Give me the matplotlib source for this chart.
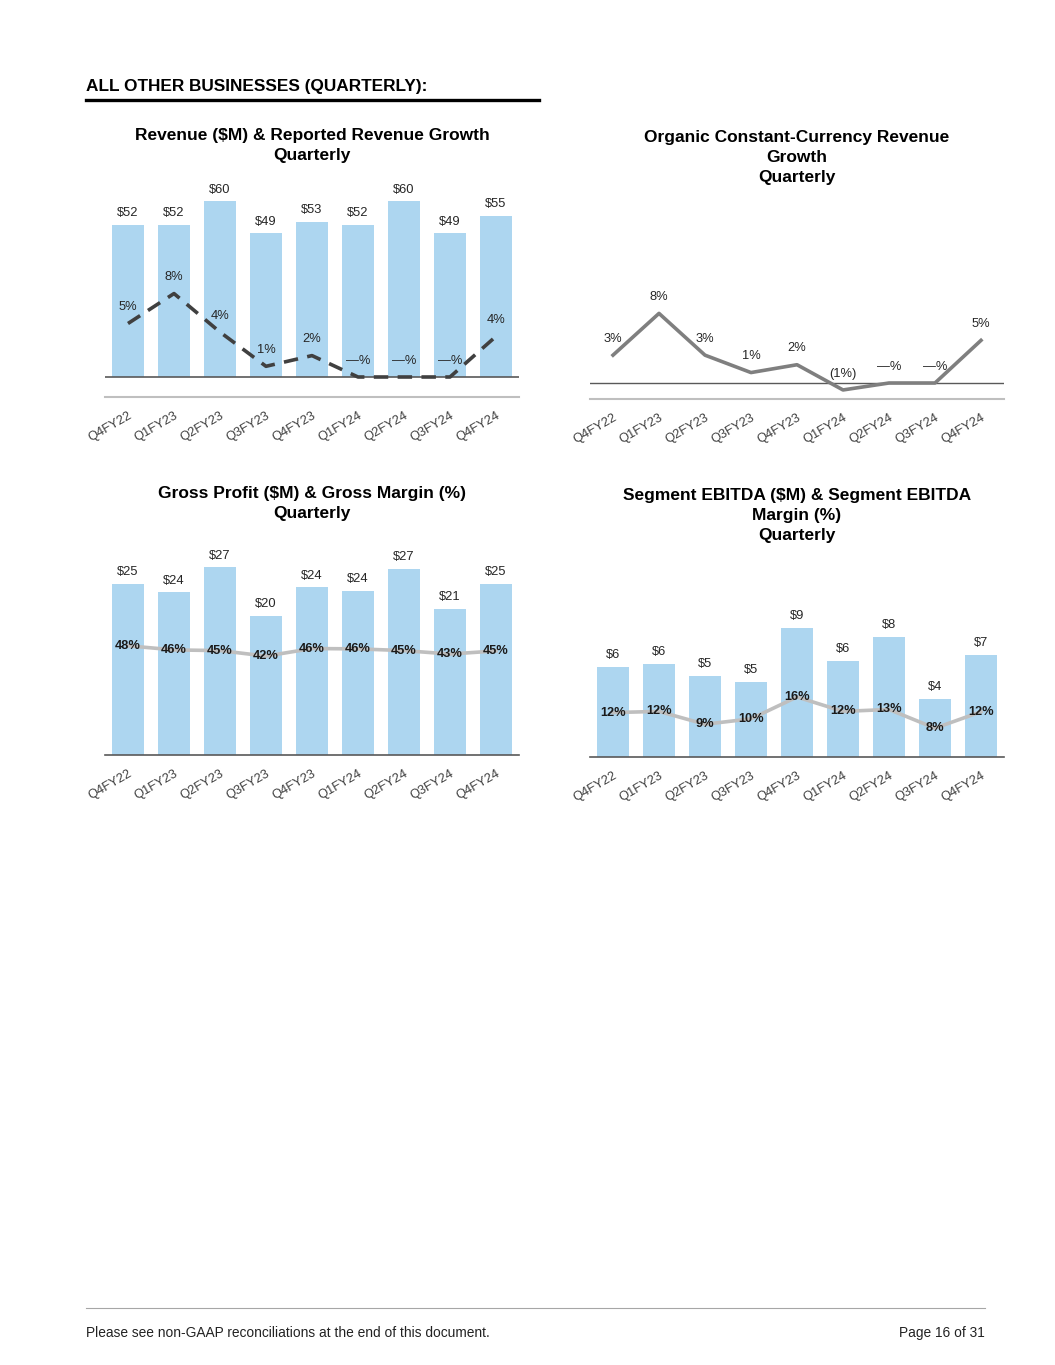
import matplotlib
matplotlib.use("Agg")
import matplotlib.pyplot as plt

plt.rcParams['font.family'] = ['Liberation Sans', 'DejaVu Sans']

quarters = ["Q4FY22", "Q1FY23", "Q2FY23", "Q3FY23", "Q4FY23",
            "Q1FY24", "Q2FY24", "Q3FY24", "Q4FY24"]

# revenue ($M) and reported growth (%)
revenue = [52, 52, 60, 49, 53, 52, 60, 49, 55]
revenue_labels = ["$52", "$52", "$60", "$49", "$53", "$52", "$60", "$49", "$55"]
rev_growth = [5.0, 7.8, 4.2, 1.0, 2.0, 0, 0, 0, 3.8]
rev_growth_labels = ["5%", "8%", "4%", "1%", "2%", "—%", "—%", "—%", "4%"]

# organic constant-currency growth (%)
organic = [3.2, 8.0, 3.2, 1.2, 2.1, -0.8, 0, 0, 4.9]
organic_labels = ["3%", "8%", "3%", "1%", "2%", "(1%)", "—%", "—%", "5%"]

# gross profit ($M) and gross margin (%)
gross_profit = [24.8, 23.6, 27.2, 20.2, 24.3, 23.8, 27.0, 21.2, 24.8]
gp_labels = ["$25", "$24", "$27", "$20", "$24", "$24", "$27", "$21", "$25"]
gross_margin = [48.0, 45.6, 45.2, 42.0, 46.4, 46.2, 45.2, 43.2, 45.0]
gm_labels = ["48%", "46%", "45%", "42%", "46%", "46%", "45%", "43%", "45%"]

# segment EBITDA ($M) and margin (%)
ebitda = [6.0, 6.2, 5.4, 5.0, 8.6, 6.4, 8.0, 3.9, 6.8]
ebitda_labels = ["$6", "$6", "$5", "$5", "$9", "$6", "$8", "$4", "$7"]
ebitda_margin = [12.0, 12.3, 9.0, 10.4, 16.0, 12.3, 12.8, 8.0, 12.2]
em_labels = ["12%", "12%", "9%", "10%", "16%", "12%", "13%", "8%", "12%"]

W, H = 1055, 1365
BAR = "#add6f0"
TXT = "#262626"

fig = plt.figure(figsize=(W / 100, H / 100), dpi=100)


def box(l, t, r, b):
    return [l / W, 1 - b / H, (r - l) / W, (b - t) / H]


def base_axes(rect):
    ax = fig.add_axes(rect)
    for s in ["top", "left", "right"]:
        ax.spines[s].set_visible(False)
    ax.set_yticks([])
    x = list(range(len(quarters)))
    ax.set_xticks(x)
    ax.set_xticklabels(quarters, rotation=30, ha="right", rotation_mode="anchor",
                       fontsize=9.3, color="#404040")
    ax.tick_params(axis="x", length=0, pad=9)
    ax.set_xlim(-0.5, len(quarters) - 0.5)
    return ax, x


def bar_labels(ax, x, vals, labels):
    for xi, v, lab in zip(x, vals, labels):
        ax.annotate(lab, (xi, v), xytext=(0, 4), textcoords="offset points",
                    ha="center", va="bottom", fontsize=9.3, color=TXT)


def line_labels(ax, x, vals, labels):
    for xi, v, lab in zip(x, vals, labels):
        ax.annotate(lab, (xi, v), xytext=(0, 7.5), textcoords="offset points",
                    ha="center", va="bottom", fontsize=9.3, color=TXT)


def title(xc, ytop, text):
    fig.text(xc / W, 1 - ytop / H, text, ha="center", va="top",
             fontsize=12.5, fontweight="bold", color="black", linespacing=1.42)


# header
fig.text(86 / W, 1 - 87 / H, "ALL OTHER BUSINESSES (QUARTERLY):", fontsize=12.4,
         fontweight="bold", va="center", ha="left")
fig.add_artist(plt.Line2D([86 / W, 539 / W], [1 - 100 / H, 1 - 100 / H],
                          color="black", lw=2.4))

# chart 1: revenue
ax1, x = base_axes(box(105, 185, 519, 397))
ax1.bar(x, revenue, width=0.7, color=BAR)
ax1.set_ylim(-20 / 2.93, (377 - 185) / 2.93)
ax1.axhline(0, color="#595959", lw=1.2)
ax1.spines["bottom"].set_color("#bfbfbf")
ax1.spines["bottom"].set_linewidth(1.5)
bar_labels(ax1, x, revenue, revenue_labels)
ax1b = ax1.twinx()
ax1b.set_ylim(-20 / 10.7, (377 - 185) / 10.7)
ax1b.axis("off")
ax1b.plot(x, rev_growth, color="#404040", lw=2.6, dashes=(4, 2.6),
          solid_capstyle="butt", dash_capstyle="butt")
line_labels(ax1b, x, rev_growth, rev_growth_labels)
title(312, 128, "Revenue ($M) & Reported Revenue Growth\nQuarterly")

# chart 2: organic growth
ax2, x = base_axes(box(590, 185, 1004, 399))
ax2.set_ylim(-16 / 8.7, (383 - 185) / 8.7)
ax2.axhline(0, color="#595959", lw=1.0)
ax2.spines["bottom"].set_color("#bfbfbf")
ax2.spines["bottom"].set_linewidth(1.5)
ax2.plot(x, organic, color="#7f7f7f", lw=2.6)
line_labels(ax2, x, organic, organic_labels)
title(797, 130, "Organic Constant-Currency Revenue\nGrowth\nQuarterly")

# chart 3: gross profit
ax3, x = base_axes(box(105, 545, 519, 755))
ax3.bar(x, gross_profit, width=0.7, color=BAR)
ax3.set_ylim(0, 210 / 6.9)
ax3.spines["bottom"].set_color("#595959")
ax3.spines["bottom"].set_linewidth(1.2)
bar_labels(ax3, x, gross_profit, gp_labels)
ax3b = ax3.twinx()
ax3b.set_ylim(-15.5, 106.6)
ax3b.axis("off")
ax3b.plot(x, gross_margin, color="#bfbfbf", lw=2.6)
for xi, v, lab in zip(x, gross_margin, gm_labels):
    ax3b.text(xi, v, lab, ha="center", va="center", fontsize=9.2,
              fontweight="bold", color="#1a1a1a")
title(312, 486, "Gross Profit ($M) & Gross Margin (%)\nQuarterly")

# chart 4: segment EBITDA
ax4, x = base_axes(box(590, 545, 1004, 757))
ax4.bar(x, ebitda, width=0.7, color=BAR)
ax4.set_ylim(0, 212 / 15)
ax4.spines["bottom"].set_color("#595959")
ax4.spines["bottom"].set_linewidth(1.2)
bar_labels(ax4, x, ebitda, ebitda_labels)
ax4b = ax4.twinx()
ax4b.set_ylim(0.6, 55)
ax4b.axis("off")
ax4b.plot(x, ebitda_margin, color="#bfbfbf", lw=2.6)
for xi, v, lab in zip(x, ebitda_margin, em_labels):
    ax4b.text(xi, v, lab, ha="center", va="center", fontsize=9.2,
              fontweight="bold", color="#1a1a1a")
title(797, 488, "Segment EBITDA ($M) & Segment EBITDA\nMargin (%)\nQuarterly")

# footer
fig.add_artist(plt.Line2D([86 / W, 985 / W], [1 - 1308 / H, 1 - 1308 / H],
                          color="#a6a6a6", lw=0.8))
fig.text(86 / W, 1 - 1333 / H, "Please see non-GAAP reconciliations at the end of this document.",
         fontsize=9.9, va="center", ha="left", color="#222222")
fig.text(985 / W, 1 - 1333 / H, "Page 16 of 31", fontsize=9.9, va="center", ha="right",
         color="#222222")

fig.savefig("out.png", dpi=100)
